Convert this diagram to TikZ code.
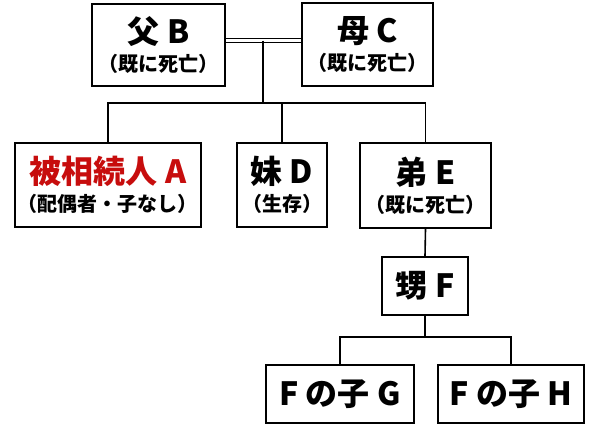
\documentclass[tikz,border=0pt]{standalone}
\usepackage{fontspec}
\setmainfont{Noto Sans CJK JP}
\usetikzlibrary{positioning}
\definecolor{heirred}{rgb}{0.78,0.05,0.05}
\newcommand{\subline}[1]{{\fontsize{10}{12}\selectfont #1}}

\begin{document}
\begin{tikzpicture}[x=0.5pt,y=-0.5pt,
    box/.style={draw,line width=1pt,fill=white,inner sep=0pt,align=center,font=\bfseries\fontsize{16}{17}\selectfont},
    ln/.style={line width=0.8pt}]
    \useasboundingbox (0,0) rectangle (599,429);
    \node[box,minimum width=66.5pt,minimum height=41pt] (b) at (158.5,45) {父 B\\[-3pt]\subline{（既に死亡）}};
    \node[box,minimum width=65.5pt,minimum height=41.5pt] (c) at (367.5,44.5) {母 C\\[-3pt]\subline{（既に死亡）}};
    \node[box,minimum width=93pt,minimum height=42pt,text=heirred] (a) at (108,185) {被相続人 A\\[-3pt]\subline{\color{black}（配偶者・子なし）}};
    \node[box,minimum width=45pt,minimum height=42pt] (d) at (282,185) {妹 D\\[-3pt]\subline{（生存）}};
    \node[box,minimum width=65.5pt,minimum height=42.5pt] (e) at (425.5,185.5) {弟 E\\[-3pt]\subline{（既に死亡）}};
    \node[box,minimum width=43pt,minimum height=29pt] (f) at (425,286) {甥 F};
    \node[box,minimum width=74pt,minimum height=29pt] (g) at (340,394) {F の子 G};
    \node[box,minimum width=73pt,minimum height=29pt] (h) at (511,394) {F の子 H};
    \coordinate (m) at (263,40.5);
    \coordinate (bar) at (263,103);
    \coordinate (bar2) at (425,337);
    % parents
    \draw[ln,line width=0.5pt,double,double distance=1.2pt] (b.east |- m) -- (c.west |- m);
    \draw[ln] (m) -- (bar);
    \draw[ln] (a.north) |- (bar) -| (e.north);
    \draw[ln] (d.north) -- (d.north |- bar);
    % nephew and his children
    \draw[ln] (e.south) -- (f.north);
    \draw[ln] (f.south) -- (bar2);
    \draw[ln] (g.north) |- (bar2) -| (h.north);
\end{tikzpicture}
\end{document}
